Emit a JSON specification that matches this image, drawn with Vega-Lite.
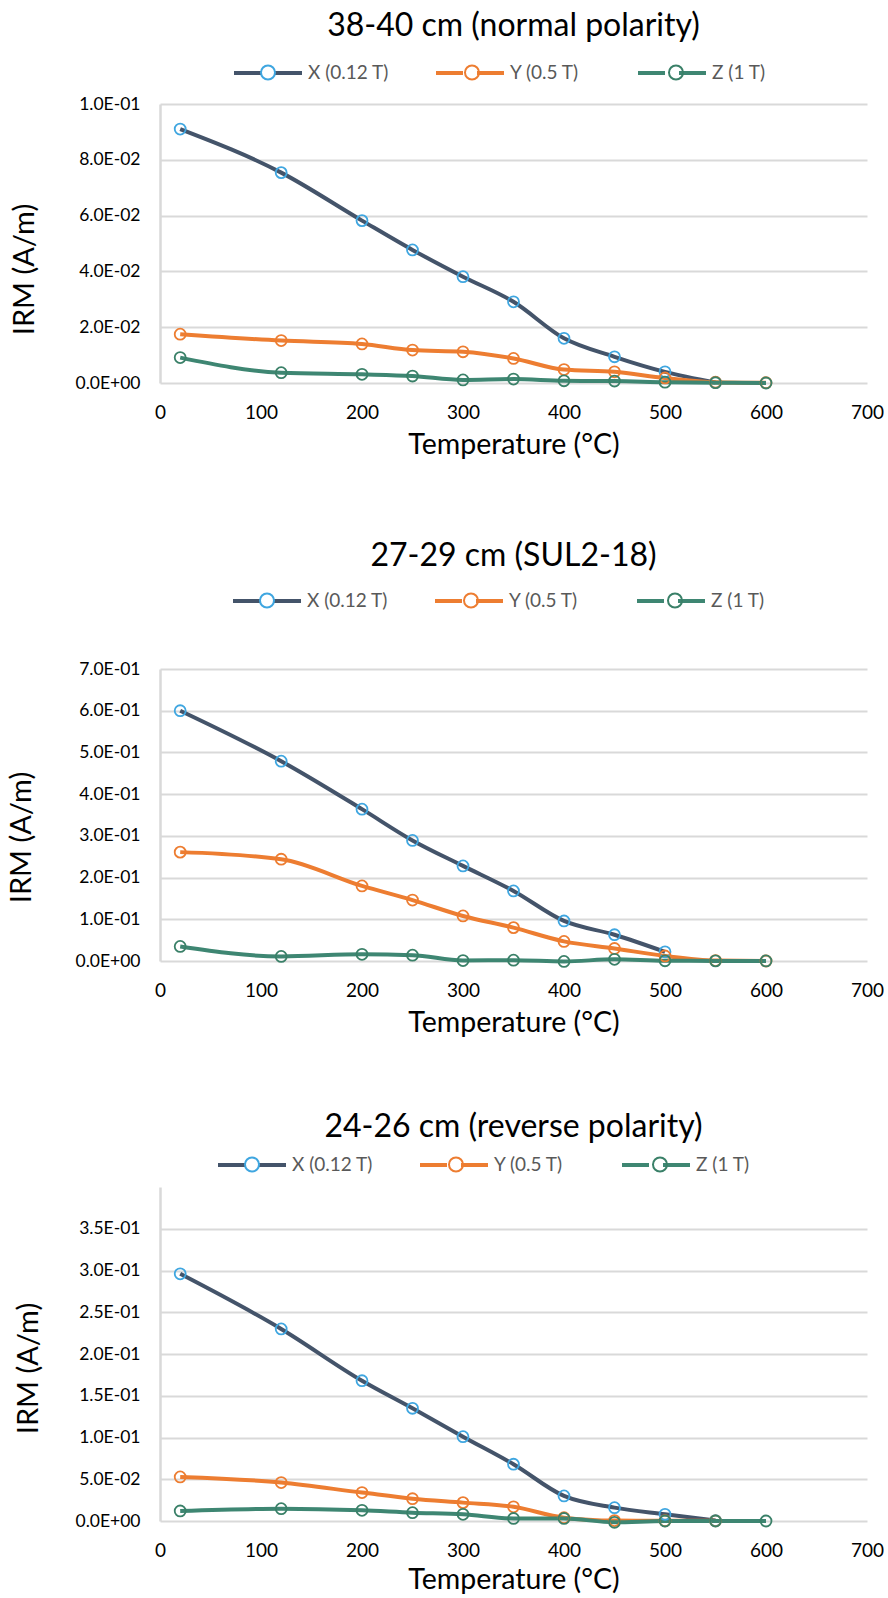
{
  "$schema": "https://vega.github.io/schema/vega-lite/v6.json",
  "padding": {"left": 7, "top": 10, "right": 0, "bottom": 0},
  "background": "white",
  "spacing": 74,
  "datasets": {
    "p1": [
      {"T": 20, "series": "X (0.12 T)", "IRM": 0.091},
      {"T": 120, "series": "X (0.12 T)", "IRM": 0.0754},
      {"T": 200, "series": "X (0.12 T)", "IRM": 0.0582},
      {"T": 250, "series": "X (0.12 T)", "IRM": 0.0477},
      {"T": 300, "series": "X (0.12 T)", "IRM": 0.0381},
      {"T": 350, "series": "X (0.12 T)", "IRM": 0.0291},
      {"T": 400, "series": "X (0.12 T)", "IRM": 0.016},
      {"T": 450, "series": "X (0.12 T)", "IRM": 0.0094},
      {"T": 500, "series": "X (0.12 T)", "IRM": 0.004},
      {"T": 550, "series": "X (0.12 T)", "IRM": 0.0002},
      {"T": 20, "series": "Y (0.5 T)", "IRM": 0.0175},
      {"T": 120, "series": "Y (0.5 T)", "IRM": 0.0152},
      {"T": 200, "series": "Y (0.5 T)", "IRM": 0.014},
      {"T": 250, "series": "Y (0.5 T)", "IRM": 0.0118},
      {"T": 300, "series": "Y (0.5 T)", "IRM": 0.0112},
      {"T": 350, "series": "Y (0.5 T)", "IRM": 0.0088},
      {"T": 400, "series": "Y (0.5 T)", "IRM": 0.0048},
      {"T": 450, "series": "Y (0.5 T)", "IRM": 0.004},
      {"T": 500, "series": "Y (0.5 T)", "IRM": 0.0018},
      {"T": 550, "series": "Y (0.5 T)", "IRM": 0.0003},
      {"T": 600, "series": "Y (0.5 T)", "IRM": 0.0001},
      {"T": 20, "series": "Z (1 T)", "IRM": 0.0091},
      {"T": 120, "series": "Z (1 T)", "IRM": 0.0037},
      {"T": 200, "series": "Z (1 T)", "IRM": 0.0031},
      {"T": 250, "series": "Z (1 T)", "IRM": 0.0025},
      {"T": 300, "series": "Z (1 T)", "IRM": 0.0011},
      {"T": 350, "series": "Z (1 T)", "IRM": 0.0014},
      {"T": 400, "series": "Z (1 T)", "IRM": 0.0008},
      {"T": 450, "series": "Z (1 T)", "IRM": 0.0007},
      {"T": 500, "series": "Z (1 T)", "IRM": 0.0003},
      {"T": 550, "series": "Z (1 T)", "IRM": 0.0001},
      {"T": 600, "series": "Z (1 T)", "IRM": 0}
    ],
    "p2": [
      {"T": 20, "series": "X (0.12 T)", "IRM": 0.6},
      {"T": 120, "series": "X (0.12 T)", "IRM": 0.479},
      {"T": 200, "series": "X (0.12 T)", "IRM": 0.364},
      {"T": 250, "series": "X (0.12 T)", "IRM": 0.289},
      {"T": 300, "series": "X (0.12 T)", "IRM": 0.228},
      {"T": 350, "series": "X (0.12 T)", "IRM": 0.168},
      {"T": 400, "series": "X (0.12 T)", "IRM": 0.096},
      {"T": 450, "series": "X (0.12 T)", "IRM": 0.063},
      {"T": 500, "series": "X (0.12 T)", "IRM": 0.022},
      {"T": 20, "series": "Y (0.5 T)", "IRM": 0.261},
      {"T": 120, "series": "Y (0.5 T)", "IRM": 0.244},
      {"T": 200, "series": "Y (0.5 T)", "IRM": 0.18},
      {"T": 250, "series": "Y (0.5 T)", "IRM": 0.146},
      {"T": 300, "series": "Y (0.5 T)", "IRM": 0.108},
      {"T": 350, "series": "Y (0.5 T)", "IRM": 0.08},
      {"T": 400, "series": "Y (0.5 T)", "IRM": 0.047},
      {"T": 450, "series": "Y (0.5 T)", "IRM": 0.03},
      {"T": 500, "series": "Y (0.5 T)", "IRM": 0.012},
      {"T": 550, "series": "Y (0.5 T)", "IRM": 0.001},
      {"T": 600, "series": "Y (0.5 T)", "IRM": 0},
      {"T": 20, "series": "Z (1 T)", "IRM": 0.035},
      {"T": 120, "series": "Z (1 T)", "IRM": 0.011},
      {"T": 200, "series": "Z (1 T)", "IRM": 0.016},
      {"T": 250, "series": "Z (1 T)", "IRM": 0.014},
      {"T": 300, "series": "Z (1 T)", "IRM": 0.001},
      {"T": 350, "series": "Z (1 T)", "IRM": 0.002},
      {"T": 400, "series": "Z (1 T)", "IRM": -0.001},
      {"T": 450, "series": "Z (1 T)", "IRM": 0.004},
      {"T": 500, "series": "Z (1 T)", "IRM": 0.0005},
      {"T": 550, "series": "Z (1 T)", "IRM": 0.0003},
      {"T": 600, "series": "Z (1 T)", "IRM": 0.0002}
    ],
    "p3": [
      {"T": 20, "series": "X (0.12 T)", "IRM": 0.296},
      {"T": 120, "series": "X (0.12 T)", "IRM": 0.23},
      {"T": 200, "series": "X (0.12 T)", "IRM": 0.168},
      {"T": 250, "series": "X (0.12 T)", "IRM": 0.135},
      {"T": 300, "series": "X (0.12 T)", "IRM": 0.101},
      {"T": 350, "series": "X (0.12 T)", "IRM": 0.068},
      {"T": 400, "series": "X (0.12 T)", "IRM": 0.03},
      {"T": 450, "series": "X (0.12 T)", "IRM": 0.016},
      {"T": 500, "series": "X (0.12 T)", "IRM": 0.008},
      {"T": 550, "series": "X (0.12 T)", "IRM": 0.0005},
      {"T": 20, "series": "Y (0.5 T)", "IRM": 0.0528},
      {"T": 120, "series": "Y (0.5 T)", "IRM": 0.046},
      {"T": 200, "series": "Y (0.5 T)", "IRM": 0.034},
      {"T": 250, "series": "Y (0.5 T)", "IRM": 0.0267},
      {"T": 300, "series": "Y (0.5 T)", "IRM": 0.022},
      {"T": 350, "series": "Y (0.5 T)", "IRM": 0.017},
      {"T": 400, "series": "Y (0.5 T)", "IRM": 0.004},
      {"T": 450, "series": "Y (0.5 T)", "IRM": 0.0005},
      {"T": 500, "series": "Y (0.5 T)", "IRM": 0.0003},
      {"T": 550, "series": "Y (0.5 T)", "IRM": 0.0002},
      {"T": 20, "series": "Z (1 T)", "IRM": 0.012},
      {"T": 120, "series": "Z (1 T)", "IRM": 0.0148},
      {"T": 200, "series": "Z (1 T)", "IRM": 0.0128},
      {"T": 250, "series": "Z (1 T)", "IRM": 0.01},
      {"T": 300, "series": "Z (1 T)", "IRM": 0.008},
      {"T": 350, "series": "Z (1 T)", "IRM": 0.003},
      {"T": 400, "series": "Z (1 T)", "IRM": 0.003},
      {"T": 450, "series": "Z (1 T)", "IRM": -0.0015},
      {"T": 500, "series": "Z (1 T)", "IRM": 0},
      {"T": 550, "series": "Z (1 T)", "IRM": 0},
      {"T": 600, "series": "Z (1 T)", "IRM": 0}
    ]
  },
  "resolve": {
    "scale": {"color": "independent", "stroke": "independent", "y": "independent"},
    "legend": {"color": "independent", "stroke": "independent"}
  },
  "vconcat": [
    {
      "spacing": 81,
      "resolve": {
        "scale": {"color": "independent", "stroke": "independent", "y": "independent"},
        "legend": {"color": "independent", "stroke": "independent"}
      },
      "vconcat": [
        {
          "title": {"text": "38-40 cm (normal polarity)", "offset": -6},
          "width": 707,
          "height": 279,
          "data": {"name": "p1"},
          "encoding": {
            "x": {"field": "T", "type": "quantitative", "scale": {"domain": [0, 700], "nice": false},
                  "axis": {"values": [0, 100, 200, 300, 400, 500, 600, 700], "title": "Temperature (°C)"}},
            "y": {"field": "IRM", "type": "quantitative", "scale": {"domain": [0, 0.1], "nice": false},
                  "axis": {"values": [0, 0.02, 0.04, 0.06, 0.08, 0.1], "title": "IRM (A/m)", "titleY": 165, "titlePadding": 36}}
          },
          "layer": [
            {
              "mark": {"type": "line", "interpolate": "monotone", "strokeWidth": 4},
              "encoding": {
                "color": {"field": "series", "type": "nominal",
                  "scale": {"domain": ["X (0.12 T)", "Y (0.5 T)", "Z (1 T)"], "range": ["#44546A", "#ED7D31", "#3E8672"]},
                  "legend": {"orient": "none", "legendX": 72, "legendY": -67, "direction": "horizontal", "columns": 3, "title": null,
                    "symbolType": "M-1,0L-0.206,0M0.206,0L1,0", "symbolSize": 4624, "symbolStrokeWidth": 4,
                    "labelFontSize": 19, "labelColor": "#595959", "labelFont": "Lato", "labelOffset": 4,
                    "gridAlign": "all", "columnPadding": 39}}
              }
            },
            {
              "mark": {"type": "point", "shape": "circle", "filled": false, "size": 120, "strokeWidth": 1.8, "opacity": 1},
              "encoding": {
                "stroke": {"field": "series", "type": "nominal",
                  "scale": {"range": ["#3FA6E0", "#ED7D31", "#3A8068"]},
                  "legend": {"orient": "none", "legendX": 73, "legendY": -67, "direction": "horizontal", "columns": 3, "title": null,
                    "symbolType": "M-1,0M1,0M-0.206,0A0.206,0.206,0,1,1,0.206,0A0.206,0.206,0,1,1,-0.206,0", "symbolSize": 4624, "symbolStrokeWidth": 2,
                    "labelFontSize": 19, "labelColor": "transparent", "labelFont": "Lato", "labelOffset": 6,
                    "gridAlign": "all", "columnPadding": 44}}
              }
            }
          ]
        },
        {
          "title": {"text": "27-29 cm (SUL2-18)", "offset": -8},
          "width": 707,
          "height": 292,
          "data": {"name": "p2"},
          "encoding": {
            "x": {"field": "T", "type": "quantitative", "scale": {"domain": [0, 700], "nice": false},
                  "axis": {"values": [0, 100, 200, 300, 400, 500, 600, 700], "title": "Temperature (°C)"}},
            "y": {"field": "IRM", "type": "quantitative", "scale": {"domain": [0, 0.7], "nice": false},
                  "axis": {"values": [0, 0.1, 0.2, 0.3, 0.4, 0.5, 0.6, 0.7], "title": "IRM (A/m)", "titleY": 168, "titlePadding": 39}}
          },
          "layer": [
            {
              "mark": {"type": "line", "interpolate": "monotone", "strokeWidth": 4},
              "encoding": {
                "color": {"field": "series", "type": "nominal",
                  "scale": {"domain": ["X (0.12 T)", "Y (0.5 T)", "Z (1 T)"], "range": ["#44546A", "#ED7D31", "#3E8672"]},
                  "legend": {"orient": "none", "legendX": 71, "legendY": -104, "direction": "horizontal", "columns": 3, "title": null,
                    "symbolType": "M-1,0L-0.206,0M0.206,0L1,0", "symbolSize": 4624, "symbolStrokeWidth": 4,
                    "labelFontSize": 19, "labelColor": "#595959", "labelFont": "Lato", "labelOffset": 4,
                    "gridAlign": "all", "columnPadding": 39}}
              }
            },
            {
              "mark": {"type": "point", "shape": "circle", "filled": false, "size": 120, "strokeWidth": 1.8, "opacity": 1},
              "encoding": {
                "stroke": {"field": "series", "type": "nominal",
                  "scale": {"range": ["#3FA6E0", "#ED7D31", "#3A8068"]},
                  "legend": {"orient": "none", "legendX": 72, "legendY": -104, "direction": "horizontal", "columns": 3, "title": null,
                    "symbolType": "M-1,0M1,0M-0.206,0A0.206,0.206,0,1,1,0.206,0A0.206,0.206,0,1,1,-0.206,0", "symbolSize": 4624, "symbolStrokeWidth": 2,
                    "labelFontSize": 19, "labelColor": "transparent", "labelFont": "Lato", "labelOffset": 6,
                    "gridAlign": "all", "columnPadding": 44}}
              }
            }
          ]
        }
      ]
    },
    {
      "title": {"text": "24-26 cm (reverse polarity)", "offset": -15},
      "width": 707,
      "height": 334,
      "data": {"name": "p3"},
      "encoding": {
        "x": {"field": "T", "type": "quantitative", "scale": {"domain": [0, 700], "nice": false},
              "axis": {"values": [0, 100, 200, 300, 400, 500, 600, 700], "title": "Temperature (°C)", "titlePadding": 5}},
        "y": {"field": "IRM", "type": "quantitative", "scale": {"domain": [0, 0.4], "nice": false},
              "axis": {"values": [0, 0.05, 0.1, 0.15, 0.2, 0.25, 0.3, 0.35], "title": "IRM (A/m)", "titleY": 181, "titlePadding": 32}}
      },
      "layer": [
        {
          "mark": {"type": "line", "interpolate": "monotone", "strokeWidth": 4},
          "encoding": {
            "color": {"field": "series", "type": "nominal",
              "scale": {"domain": ["X (0.12 T)", "Y (0.5 T)", "Z (1 T)"], "range": ["#44546A", "#ED7D31", "#3E8672"]},
              "legend": {"orient": "none", "legendX": 56, "legendY": -58, "direction": "horizontal", "columns": 3, "title": null,
                "symbolType": "M-1,0L-0.206,0M0.206,0L1,0", "symbolSize": 4624, "symbolStrokeWidth": 4,
                "labelFontSize": 19, "labelColor": "#595959", "labelFont": "Lato", "labelOffset": 4,
                "gridAlign": "all", "columnPadding": 39}}
          }
        },
        {
          "mark": {"type": "point", "shape": "circle", "filled": false, "size": 120, "strokeWidth": 1.8, "opacity": 1},
          "encoding": {
            "stroke": {"field": "series", "type": "nominal",
              "scale": {"range": ["#3FA6E0", "#ED7D31", "#3A8068"]},
              "legend": {"orient": "none", "legendX": 57, "legendY": -58, "direction": "horizontal", "columns": 3, "title": null,
                "symbolType": "M-1,0M1,0M-0.206,0A0.206,0.206,0,1,1,0.206,0A0.206,0.206,0,1,1,-0.206,0", "symbolSize": 4624, "symbolStrokeWidth": 2,
                "labelFontSize": 19, "labelColor": "transparent", "labelFont": "Lato", "labelOffset": 6,
                "gridAlign": "all", "columnPadding": 44}}
          }
        }
      ]
    }
  ],
  "config": {
    "font": "Lato",
    "view": {"stroke": null},
    "title": {"font": "Lato", "fontSize": 32, "fontWeight": "normal", "color": "#000000", "frame": "group", "anchor": "middle"},
    "legend": {"symbolFillColor": "white"},
    "axisX": {"grid": false, "domain": false, "ticks": false, "labelFlush": false, "labelFont": "Lato", "labelFontSize": 19, "labelColor": "#000000",
      "labelPadding": 20, "titleFont": "Lato", "titleFontSize": 28.5, "titleFontWeight": "normal", "titleColor": "#000000", "titlePadding": 8},
    "axisY": {"grid": true, "gridColor": "#D9D9D9", "gridWidth": 2, "domain": true, "domainColor": "#D9D9D9", "domainWidth": 2.5,
      "ticks": false, "labelFont": "Lato", "labelFontSize": 17.5, "labelColor": "#000000", "labelPadding": 20,
      "labelExpr": "replace(replace(upper(format(datum.value, '.1e')), 'E-', 'E-0'), 'E+', 'E+0')",
      "titleFont": "Lato", "titleFontSize": 29, "titleFontWeight": "normal", "titleColor": "#000000", "titlePadding": 26}
  }
}
